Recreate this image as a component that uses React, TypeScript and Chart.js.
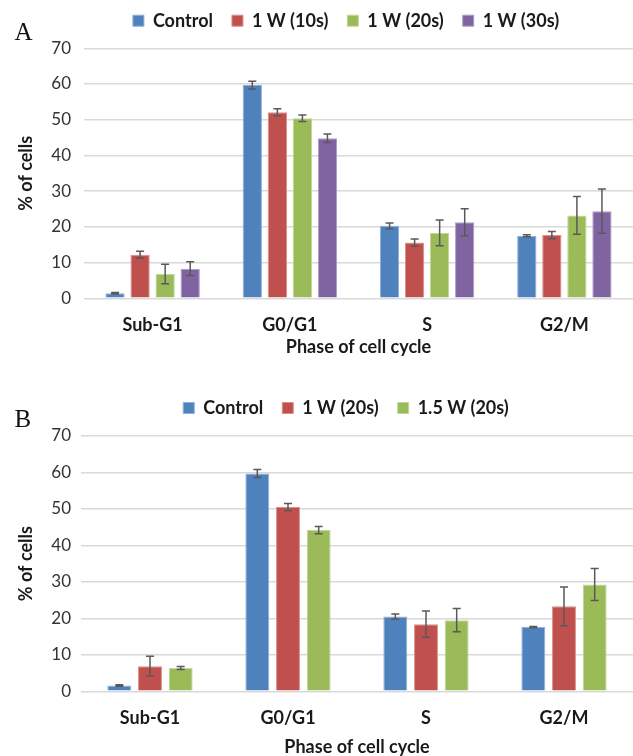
import { useEffect, useRef } from "react";
import { Chart, registerables } from "chart.js";

Chart.register(...registerables);

// Cell-cycle phases on the x axis
const PHASES = ["Sub-G1", "G0/G1", "S", "G2/M"];

// Panel A: exposure time at 1 W
const A_NAMES = ["Control", "1 W (10s)", "1 W (20s)", "1 W (30s)"];
const A_CONTROL = [1.4, 59.7, 20.3, 17.5];
const A_CONTROL_ERR = [0.2, 1.1, 0.8, 0.3];
const A_1W_10S = [12.2, 52.1, 15.6, 17.7];
const A_1W_10S_ERR = [1.0, 1.0, 1.0, 1.0];
const A_1W_20S = [6.8, 50.4, 18.3, 23.2];
const A_1W_20S_ERR = [2.7, 0.9, 3.6, 5.3];
const A_1W_30S = [8.3, 44.8, 21.3, 24.4];
const A_1W_30S_ERR = [1.9, 1.2, 3.8, 6.2];

// Panel B: power at 20 s
const B_NAMES = ["Control", "1 W (20s)", "1.5 W (20s)"];
const B_CONTROL = [1.6, 59.7, 20.5, 17.6];
const B_CONTROL_ERR = [0.2, 1.1, 0.7, 0.2];
const B_1W_20S = [6.9, 50.5, 18.4, 23.3];
const B_1W_20S_ERR = [2.7, 1.0, 3.6, 5.3];
const B_15W_20S = [6.4, 44.2, 19.5, 29.3];
const B_15W_20S_ERR = [0.4, 1.0, 3.2, 4.4];

const Y_MIN = 0;
const Y_MAX = 70;
const Y_STEP = 10;

const FILLS = ["#4F81BD", "#C0504D", "#9BBB59", "#8064A2"];
const EDGES = ["#8EAEDB", "#DA8E8C", "#C2D898", "#AE9CC8"];

const FONT = "Lato";
const DARK = "#1a1a1a";

type PanelProps = {
  names: string[];
  values: number[][];
  errors: number[][];
  height: number;
  axisWidth: number;
  xAxisHeight: number;
  padTop: number;
  padBottom: number;
  legendDx: number;
  legendDy: number;
  yTickPad: number;
  barPct: number;
  catPct: number;
};

// Vertical error bars with caps, placed through the value scale
const errorBars = {
  id: "errorBars",
  afterDatasetsDraw(chart: any) {
    const { ctx } = chart;
    const y = chart.scales.y;
    chart.data.datasets.forEach((ds: any, i: number) => {
      const meta = chart.getDatasetMeta(i);
      meta.data.forEach((bar: any, j: number) => {
        const v = ds.data[j];
        const e = ds.errors[j];
        const top = y.getPixelForValue(v + e);
        const bot = y.getPixelForValue(v - e);
        const cap = 4;
        ctx.save();
        ctx.strokeStyle = "#595959";
        ctx.lineWidth = 1.5;
        ctx.beginPath();
        ctx.moveTo(bar.x, top);
        ctx.lineTo(bar.x, bot);
        ctx.moveTo(bar.x - cap, top);
        ctx.lineTo(bar.x + cap, top);
        ctx.moveTo(bar.x - cap, bot);
        ctx.lineTo(bar.x + cap, bot);
        ctx.stroke();
        ctx.restore();
      });
    });
  },
};

function Panel(p: PanelProps) {
  const ref = useRef<HTMLCanvasElement | null>(null);

  useEffect(() => {
    if (!ref.current) return;

    const legendOffset = {
      id: "legendOffset",
      afterLayout(chart: any) {
        const l = chart.legend;
        if (!l) return;
        l.left += p.legendDx;
        l.right += p.legendDx;
        l.top += p.legendDy;
        l.bottom += p.legendDy;
      },
    };

    const chart = new Chart(ref.current, {
      type: "bar",
      data: {
        labels: PHASES,
        datasets: p.names.map((name, i) => ({
          label: name,
          data: p.values[i],
          errors: p.errors[i],
          backgroundColor: FILLS[i],
          borderColor: EDGES[i],
          borderWidth: 1,
          barPercentage: p.barPct,
          categoryPercentage: p.catPct,
        })) as any,
      },
      options: {
        animation: false,
        responsive: false,
        devicePixelRatio: 1,
        layout: {
          padding: { top: p.padTop, bottom: p.padBottom, left: 0, right: 0 },
        },
        plugins: {
          legend: {
            position: "top",
            labels: {
              boxWidth: 11,
              boxHeight: 11,
              padding: 19,
              color: DARK,
              font: { family: FONT, size: 18, weight: "bold" },
            },
          },
          tooltip: { enabled: false },
        },
        scales: {
          x: {
            grid: { display: false, drawTicks: false },
            border: { display: false },
            ticks: {
              padding: 16,
              color: DARK,
              font: { family: FONT, size: 18, weight: "bold" },
            },
            title: {
              display: true,
              text: "Phase of cell cycle",
              color: DARK,
              padding: { top: 0, bottom: 0 },
              font: { family: FONT, size: 18, weight: "bold" },
            },
            afterFit: (scale: any) => {
              scale.height = p.xAxisHeight;
            },
          },
          y: {
            min: Y_MIN,
            max: Y_MAX,
            grid: { color: "#D9D9D9", lineWidth: 1.5, drawTicks: false },
            border: { display: false },
            ticks: {
              stepSize: Y_STEP,
              padding: p.yTickPad,
              color: "#333333",
              font: { family: FONT, size: 17 },
            },
            title: {
              display: true,
              text: "% of cells",
              color: DARK,
              padding: { top: 15.5, bottom: 0 },
              font: { family: FONT, size: 18, weight: "bold" },
            },
            afterFit: (scale: any) => {
              scale.width = p.axisWidth;
            },
          },
        },
      },
      plugins: [legendOffset, errorBars],
    });

    return () => chart.destroy();
  }, []);

  return (
    <canvas
      ref={ref}
      width={633}
      height={p.height}
      style={{ display: "block", width: 633, height: p.height }}
    />
  );
}

const panelLetter: React.CSSProperties = {
  position: "absolute",
  fontFamily: '"Liberation Serif", "Times New Roman", serif',
  fontSize: 25,
  lineHeight: "25px",
  color: "#111",
};

export default function App() {
  return (
    <div
      style={{
        position: "fixed",
        left: 0,
        top: 0,
        width: 633,
        height: 756,
        overflow: "hidden",
        background: "#fff",
      }}
    >
      <div style={{ position: "absolute", left: 0, top: 0 }}>
        <Panel
          names={A_NAMES}
          values={[A_CONTROL, A_1W_10S, A_1W_20S, A_1W_30S]}
          errors={[A_CONTROL_ERR, A_1W_10S_ERR, A_1W_20S_ERR, A_1W_30S_ERR]}
          height={376}
          axisWidth={84}
          xAxisHeight={59.2}
          padTop={1.3}
          padBottom={18.5}
          legendDx={29.5}
          legendDy={-8.6}
          yTickPad={13}
          barPct={0.77}
          catPct={0.73}
        />
      </div>
      <div style={{ position: "absolute", left: 0, top: 376 }}>
        <Panel
          names={B_NAMES}
          values={[B_CONTROL, B_1W_20S, B_15W_20S]}
          errors={[B_CONTROL_ERR, B_1W_20S_ERR, B_15W_20S_ERR]}
          height={384}
          axisWidth={81}
          xAxisHeight={66.2}
          padTop={13}
          padBottom={2.5}
          legendDx={29.5}
          legendDy={-9}
          yTickPad={10}
          barPct={0.78}
          catPct={0.667}
        />
      </div>
      <div style={{ ...panelLetter, left: 14.6, top: 19.1 }}>A</div>
      <div style={{ ...panelLetter, left: 14.5, top: 405.8 }}>B</div>
    </div>
  );
}
